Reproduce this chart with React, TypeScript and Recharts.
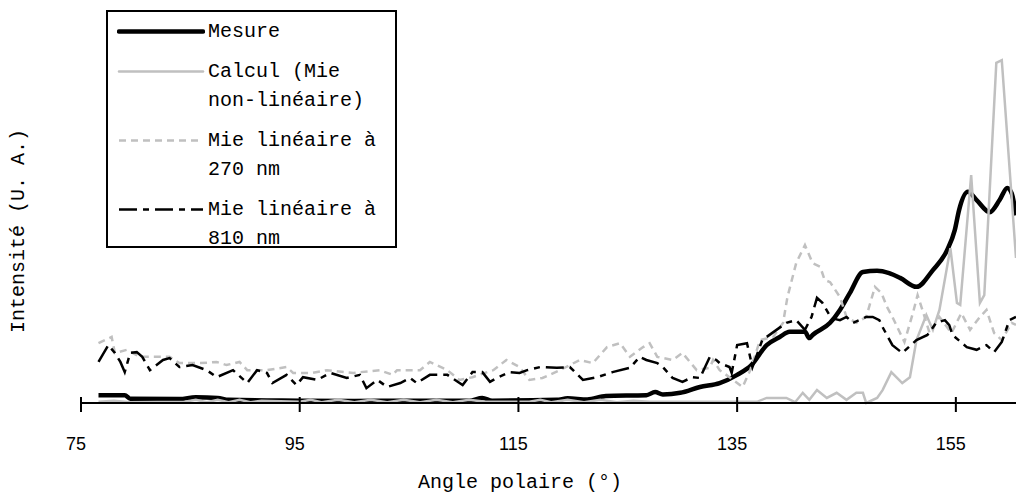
import { LineChart, Line, XAxis, YAxis, Legend } from "recharts";

// Angle polaire (°) / intensité (U. A., 0 = axe, 100 = haut du tracé)
const MESURE: [number, number][] = [
  [76.6, 2.0], [79.0, 2.0], [79.5, 1.1], [84.0, 1.0], [85.5, 1.5], [87.5, 1.3],
  [88.5, 0.8], [95.0, 0.6], [100.0, 0.5], [105.0, 0.6], [110.5, 0.6], [111.7, 1.3],
  [112.6, 0.6], [118.5, 0.8], [119.5, 1.2], [121.3, 0.9], [123.0, 1.8], [126.7, 2.0],
  [127.5, 2.8], [128.2, 2.2], [129.8, 2.6], [131.6, 4.1], [133.4, 5.1], [135.0, 7.2],
  [136.3, 9.7], [137.7, 14.8], [138.9, 16.9], [139.8, 18.2], [141.2, 18.2], [141.6, 16.6],
  [141.9, 17.4], [143.5, 20.5], [144.4, 23.8], [145.3, 28.1], [146.5, 33.5], [147.8, 33.8],
  [148.9, 33.2], [149.9, 32.0], [151.4, 29.7], [152.9, 34.0], [154.2, 39.1], [154.9, 44.2],
  [155.3, 49.4], [156.1, 54.0], [156.9, 51.9], [158.1, 48.8], [159.0, 51.9], [159.7, 55.0],
  [160.1, 53.7], [160.5, 48.0],
];

const CALCUL: [number, number][] = [
  [76.6, 0.3], [78.0, 0.6], [79.5, 0.2], [84.5, 0.3], [85.5, 0.8], [86.5, 0.2], [87.5, 0.8],
  [88.5, 0.2], [89.5, 0.8], [90.5, 0.2], [91.5, 0.6], [95.0, 0.3], [96.0, 0.8], [97.0, 0.2],
  [98.5, 0.8], [100.0, 0.2], [101.5, 0.8], [103.0, 0.2], [104.5, 0.8], [106.0, 0.2],
  [107.5, 0.8], [109.0, 0.2], [110.5, 0.8], [112.0, 0.3], [116.0, 0.3], [117.0, 0.8],
  [118.0, 0.2], [119.5, 0.8], [121.0, 0.2], [122.5, 0.8], [124.0, 0.2], [125.5, 0.6],
  [127.0, 0.3], [136.8, 0.3], [137.7, 1.3], [139.5, 1.3], [140.3, 0.2], [141.0, 2.6],
  [141.6, 0.8], [142.3, 3.3], [143.2, 1.3], [144.1, 2.6], [145.0, 0.8], [145.9, 2.6],
  [146.5, 2.6], [146.8, 0.0], [147.8, 1.3], [148.3, 3.3], [149.1, 7.9], [150.1, 5.1],
  [150.8, 6.6], [151.4, 16.1], [152.3, 22.5], [152.9, 18.7], [153.5, 23.8], [154.5, 39.6],
  [155.1, 25.6], [155.4, 25.1], [156.4, 58.3], [157.2, 25.6], [157.6, 27.6], [158.7, 87.0],
  [159.2, 87.7], [160.5, 37.1],
];

const MIE_270: [number, number][] = [
  [76.6, 15.3], [77.8, 16.9], [78.1, 12.8], [79.2, 13.6], [80.4, 11.8], [83.1, 11.8],
  [84.0, 10.2], [85.9, 10.2], [87.4, 10.5], [88.3, 9.7], [89.5, 10.5], [90.2, 8.4],
  [92.0, 8.4], [93.8, 9.2], [94.4, 7.7], [96.2, 7.7], [97.5, 8.4], [99.9, 7.7],
  [102.3, 8.4], [103.5, 7.2], [103.9, 8.4], [106.0, 8.4], [106.9, 10.5], [108.5, 8.4],
  [109.6, 5.9], [110.8, 6.6], [112.7, 8.4], [113.9, 11.0], [115.1, 9.2], [116.0, 5.9],
  [117.2, 6.4], [118.8, 8.4], [120.6, 11.0], [121.8, 10.2], [123.1, 14.3], [124.3, 15.3],
  [125.2, 11.8], [126.4, 14.3], [127.0, 15.3], [127.7, 11.8], [129.1, 11.0], [130.0, 12.8],
  [131.3, 8.4], [132.5, 9.0], [132.8, 11.0], [133.4, 8.4], [134.3, 6.6], [135.5, 4.1],
  [136.2, 8.4], [137.1, 16.1], [138.3, 16.9], [139.2, 20.5], [139.6, 27.1], [140.4, 35.8],
  [141.2, 40.4], [141.9, 35.8], [142.6, 34.8], [143.0, 31.5], [143.5, 30.9], [144.4, 27.1],
  [145.0, 22.0], [145.9, 20.5], [146.8, 22.0], [147.6, 29.7], [148.2, 28.1], [148.7, 24.6],
  [149.2, 22.0], [149.9, 17.9], [150.3, 15.6], [151.1, 23.3], [151.5, 27.6], [152.0, 23.3],
  [152.6, 17.9], [153.5, 22.0], [154.6, 17.9], [155.5, 23.0], [156.3, 18.7], [157.2, 22.0],
  [157.8, 23.8], [158.5, 17.9], [159.2, 16.1], [160.1, 20.5], [160.5, 20.0],
];

const MIE_810: [number, number][] = [
  [76.6, 10.5], [77.5, 14.8], [78.1, 12.8], [78.6, 10.5], [79.0, 7.9], [79.5, 12.8],
  [80.1, 13.0], [80.6, 11.8], [81.3, 8.4], [82.5, 11.0], [83.1, 11.5], [84.0, 9.2],
  [85.2, 9.7], [86.5, 8.4], [87.4, 6.6], [88.9, 8.4], [90.2, 5.1], [91.1, 8.4],
  [92.0, 7.7], [92.5, 5.1], [93.8, 7.2], [94.7, 4.6], [95.3, 6.6], [96.6, 5.9],
  [97.8, 7.7], [99.3, 6.4], [100.5, 7.2], [101.1, 3.8], [102.1, 5.9], [103.0, 4.1],
  [104.2, 5.1], [105.1, 6.4], [105.7, 5.1], [106.9, 7.2], [108.5, 7.2], [109.9, 4.6],
  [110.8, 7.9], [111.7, 7.9], [112.4, 5.4], [113.0, 6.4], [114.2, 7.9], [115.1, 7.7],
  [115.8, 8.4], [117.0, 9.2], [118.5, 9.0], [119.7, 9.2], [120.9, 5.9], [122.2, 6.6],
  [123.6, 7.9], [125.2, 9.0], [126.1, 11.8], [126.7, 11.0], [127.7, 10.2], [128.2, 9.2],
  [129.1, 6.4], [130.0, 5.4], [130.9, 6.6], [131.6, 6.4], [132.5, 11.8], [133.1, 11.0],
  [133.4, 10.2], [134.3, 9.2], [134.5, 7.7], [135.0, 14.8], [135.9, 15.3], [136.4, 9.2],
  [137.3, 16.1], [138.6, 18.7], [139.5, 20.5], [140.4, 21.2], [141.2, 18.7], [141.8, 22.0],
  [142.3, 26.9], [142.8, 25.6], [143.6, 21.7], [144.4, 21.2], [145.0, 22.0], [145.6, 20.5],
  [146.8, 22.0], [147.4, 22.0], [148.0, 21.2], [148.3, 19.4], [149.2, 14.8], [150.1, 12.8],
  [151.4, 16.1], [152.4, 17.4], [153.2, 20.5], [154.0, 21.2], [154.4, 19.9], [154.7, 17.4],
  [156.0, 14.3], [156.9, 13.6], [157.8, 14.8], [158.5, 13.0], [159.2, 15.6], [159.9, 21.2],
  [160.5, 22.0],
];

const X_TICKS = [75, 95, 115, 135, 155];

const SERIES = [
  { name: "Mesure", data: MESURE, color: "#000000", width: 4.5, dash: undefined, curve: "monotone" },
  { name: "Calcul (Mie non-linéaire)", data: CALCUL, color: "#c0c0c0", width: 2.5, dash: undefined, curve: "linear" },
  { name: "Mie linéaire à 270 nm", data: MIE_270, color: "#c0c0c0", width: 2.5, dash: "7 5", curve: "linear" },
  { name: "Mie linéaire à 810 nm", data: MIE_810, color: "#000000", width: 2.5, dash: "18 6 6 6", curve: "linear" },
];

const MONO = "'Liberation Mono', 'Courier New', monospace";
const SANS = "'Liberation Sans', Arial, sans-serif";

const toPoints = (pairs: [number, number][]) => pairs.map(([a, v]) => ({ a, v }));

function AngleTick(props: any) {
  const { x, y, payload } = props;
  return (
    <g>
      <line x1={x} x2={x} y1={y - 6} y2={y + 9} stroke="#000" strokeWidth={2} />
      <text x={x - 5} y={y + 47} textAnchor="middle" fontFamily={SANS} fontSize={18} fill="#000">
        {payload.value}
      </text>
    </g>
  );
}

// Légende dans l'ordre des séries (Recharts trie par nom sinon)
function LegendBox() {
  return (
    <div
      style={{
        width: 291, height: 238, boxSizing: "border-box", border: "2px solid #000",
        background: "#fff", padding: "5px 0 0 9px", fontFamily: MONO, fontSize: 20,
        lineHeight: "29px", color: "#000",
      }}
    >
      {SERIES.map((s) => (
        <div key={s.name} style={{ display: "flex", alignItems: "flex-start", marginBottom: 11 }}>
          <svg width={88} height={29} style={{ flex: "none" }}>
            <line
              x1={2} x2={86} y1={14.5} y2={14.5}
              stroke={s.color} strokeWidth={s.width}
              strokeDasharray={s.dash} strokeLinecap={s.dash ? "butt" : "round"}
            />
          </svg>
          <span style={{ marginLeft: 3, width: 182 }}>{s.name}</span>
        </div>
      ))}
    </div>
  );
}

export default function App() {
  return (
    <div style={{ position: "absolute", left: 0, top: 0, width: 1016, height: 495, background: "#fff" }}>
      <LineChart width={1016} height={495} margin={{ top: 12, right: 0, bottom: 0, left: 81 }}>
        <XAxis
          type="number"
          dataKey="a"
          domain={[75, 160.5]}
          ticks={X_TICKS}
          interval={0}
          allowDataOverflow
          height={92}
          tickSize={0}
          tickMargin={0}
          tickLine={false}
          tick={(p: any) => <AngleTick {...p} />}
          axisLine={{ stroke: "#000", strokeWidth: 2 }}
        />
        <YAxis
          type="number"
          domain={[0, 100]}
          width={0}
          tick={false}
          tickLine={false}
          axisLine={{ stroke: "#000", strokeWidth: 2 }}
        />
        <Legend
          layout="vertical"
          align="center"
          verticalAlign="middle"
          content={() => <LegendBox />}
          wrapperStyle={{ left: 106, top: 10, width: 291, height: 238 }}
        />
        {SERIES.map((s) => (
          <Line
            key={s.name}
            name={s.name}
            data={toPoints(s.data)}
            dataKey="v"
            type={s.curve as any}
            stroke={s.color}
            strokeWidth={s.width}
            strokeDasharray={s.dash}
            dot={false}
            activeDot={false}
            isAnimationActive={false}
          />
        ))}
      </LineChart>
      <div
        style={{
          position: "absolute", left: 520, top: 473, transform: "translateX(-50%)",
          fontFamily: MONO, fontSize: 20, lineHeight: "20px", whiteSpace: "nowrap", color: "#000",
        }}
      >
        Angle polaire (°)
      </div>
      <div
        style={{
          position: "absolute", left: 19, top: 231, transform: "translate(-50%, -50%) rotate(-90deg)",
          fontFamily: MONO, fontSize: 20, lineHeight: "20px", whiteSpace: "nowrap", color: "#000",
        }}
      >
        Intensité (U. A.)
      </div>
    </div>
  );
}
